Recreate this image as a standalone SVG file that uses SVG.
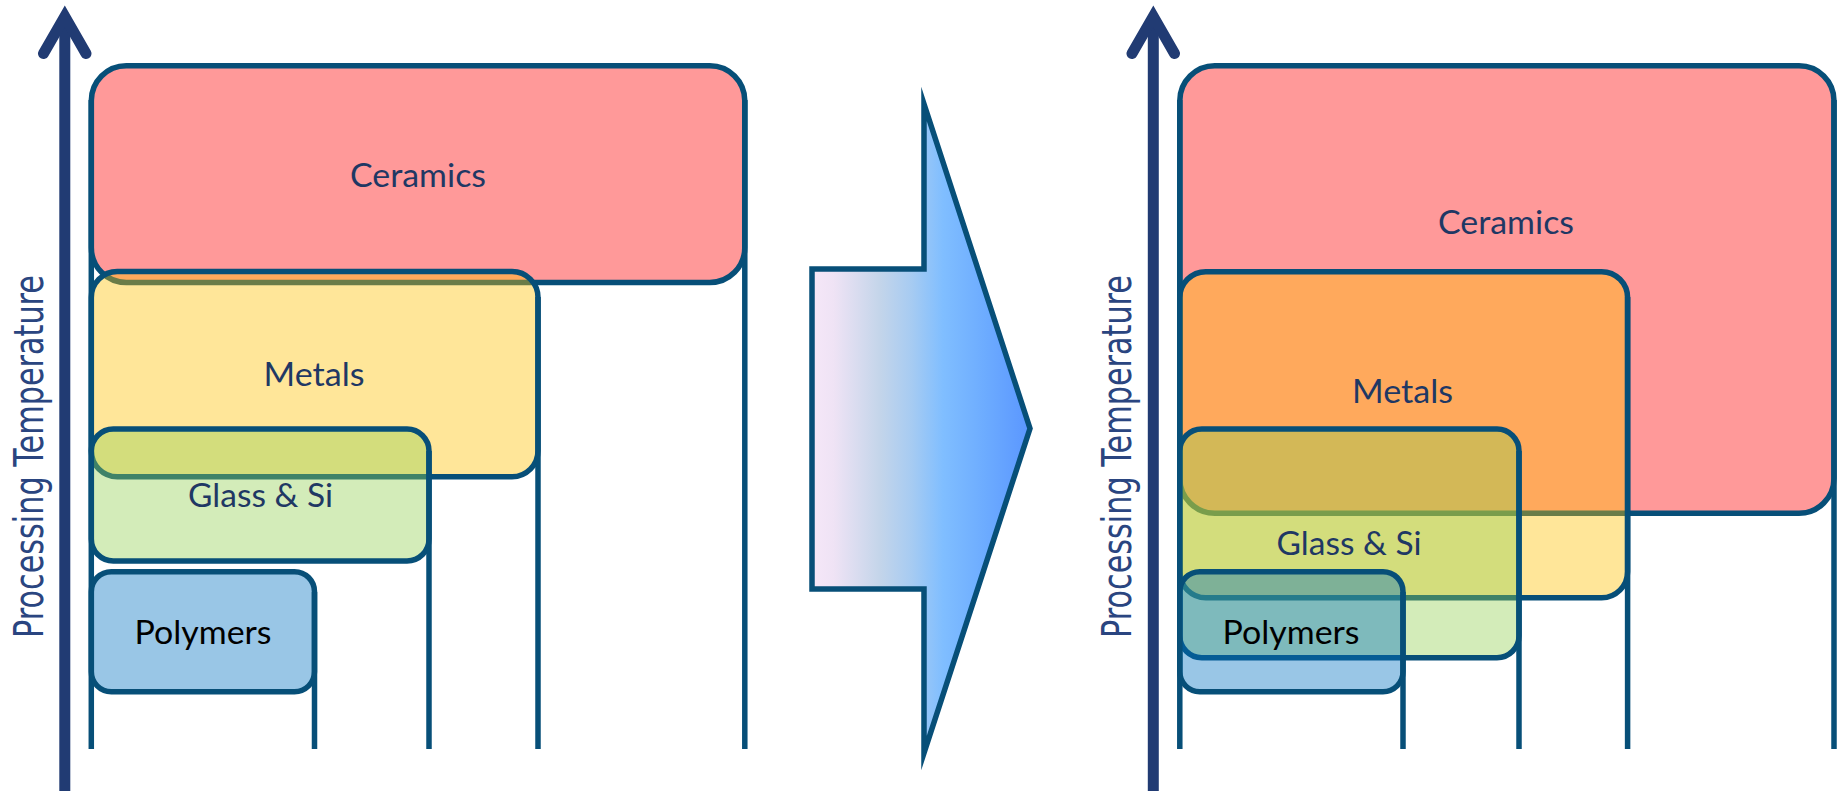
<svg xmlns="http://www.w3.org/2000/svg" width="1839" height="791" viewBox="0 0 1839 791">
<defs>
<linearGradient id="arrowGrad" x1="0" y1="0" x2="1" y2="0">
<stop offset="0" stop-color="#f6e7f8"/>
<stop offset="0.1" stop-color="#efe3f5"/>
<stop offset="0.31" stop-color="#c4d5ea"/>
<stop offset="0.46" stop-color="#a6cbf2"/>
<stop offset="0.6" stop-color="#80beff"/>
<stop offset="0.8" stop-color="#6cabff"/>
<stop offset="1" stop-color="#5a96ff"/>
</linearGradient>
</defs>
<style>
.box{stroke:#074f78;stroke-width:5.5;fill-opacity:0.4}
.cer{fill:#ff0000}
.met{fill:#ffc000}
.gla{fill:#92d050}
.pol{fill:#0070c0}
.edge{stroke:#074f78;stroke-width:5.5;fill:none}
.lbl{font-family:Lato,"Open Sans",sans-serif;font-size:32px;fill:#1f3864;text-anchor:middle}
.blk{fill:#000000}
.axis{stroke:#213b73;stroke-width:11;fill:none;stroke-linecap:round;stroke-linejoin:miter;stroke-miterlimit:10}
.axlbl{font-family:"DejaVu Sans",sans-serif;font-size:41px;fill:#2a4580;text-anchor:middle}
</style>
<rect width="1839" height="791" fill="#ffffff"/>

<!-- Left panel -->
<g id="axis-left">
<path class="axis" d="M64.8,18 V800" style="stroke-linecap:butt"/>
<path class="axis" d="M43.5,53.5 L64.8,16.5 L86,53.5"/>
<text class="axlbl" transform="translate(42.5,456.5) rotate(-90)" textLength="363" lengthAdjust="spacingAndGlyphs">Processing Temperature</text>
</g>
<g id="ceramics-left">
<rect class="box cer" x="91.3" y="65.7" width="653.5" height="216.8" rx="35"/>
<line class="edge" x1="91.3" y1="100" x2="91.3" y2="749"/>
<line class="edge" x1="744.8" y1="100" x2="744.8" y2="749"/>
<text class="lbl" x="418" y="187" textLength="136" lengthAdjust="spacingAndGlyphs">Ceramics</text>
</g>
<g id="metals-left">
<rect class="box met" x="91.3" y="271.5" width="446.7" height="205.2" rx="26"/>
<line class="edge" x1="538" y1="297" x2="538" y2="749"/>
<text class="lbl" x="314" y="386" textLength="101" lengthAdjust="spacingAndGlyphs">Metals</text>
</g>
<g id="glass-left">
<rect class="box gla" x="91.3" y="429" width="337.7" height="132" rx="22"/>
<line class="edge" x1="429" y1="451" x2="429" y2="749"/>
<text class="lbl" x="260.5" y="507" textLength="145" lengthAdjust="spacingAndGlyphs">Glass &amp; Si</text>
</g>
<g id="polymers-left">
<rect class="box pol" x="91.3" y="571.7" width="223.2" height="120" rx="20"/>
<line class="edge" x1="314.5" y1="592" x2="314.5" y2="749"/>
<text class="lbl blk" x="203" y="644" textLength="137" lengthAdjust="spacingAndGlyphs">Polymers</text>
</g>

<!-- Transition arrow -->
<g id="transition-arrow">
<polygon points="812,269 924,269 924,104 1030,428.5 924,753 924,589 812,589" fill="url(#arrowGrad)" stroke="#074f78" stroke-width="5.5" stroke-linejoin="miter" stroke-miterlimit="10"/>
</g>

<!-- Right panel -->
<g id="axis-right">
<path class="axis" d="M1153.3,18 V800" style="stroke-linecap:butt"/>
<path class="axis" d="M1132,53.5 L1153.3,16.5 L1174.5,53.5"/>
<text class="axlbl" transform="translate(1131,456.5) rotate(-90)" textLength="363" lengthAdjust="spacingAndGlyphs">Processing Temperature</text>
</g>
<g id="ceramics-right">
<rect class="box cer" x="1179.8" y="65.7" width="654.2" height="447.6" rx="35"/>
<line class="edge" x1="1179.8" y1="100" x2="1179.8" y2="749"/>
<line class="edge" x1="1834" y1="100" x2="1834" y2="749"/>
<text class="lbl" x="1506" y="234" textLength="136" lengthAdjust="spacingAndGlyphs">Ceramics</text>
</g>
<g id="metals-right">
<rect class="box met" x="1179.8" y="271.7" width="447.8" height="326" rx="26"/>
<line class="edge" x1="1627.6" y1="297" x2="1627.6" y2="749"/>
<text class="lbl" x="1402.5" y="403" textLength="101" lengthAdjust="spacingAndGlyphs">Metals</text>
</g>
<g id="glass-right">
<rect class="box gla" x="1179.8" y="429" width="339.2" height="228.7" rx="22"/>
<line class="edge" x1="1519" y1="451" x2="1519" y2="749"/>
<text class="lbl" x="1349" y="554.5" textLength="145" lengthAdjust="spacingAndGlyphs">Glass &amp; Si</text>
</g>
<g id="polymers-right">
<rect class="box pol" x="1179.8" y="571.7" width="223.2" height="120" rx="20"/>
<line class="edge" x1="1403" y1="592" x2="1403" y2="749"/>
<text class="lbl blk" x="1291" y="644" textLength="137" lengthAdjust="spacingAndGlyphs">Polymers</text>
</g>
<g id="connectors"></g>
</svg>
